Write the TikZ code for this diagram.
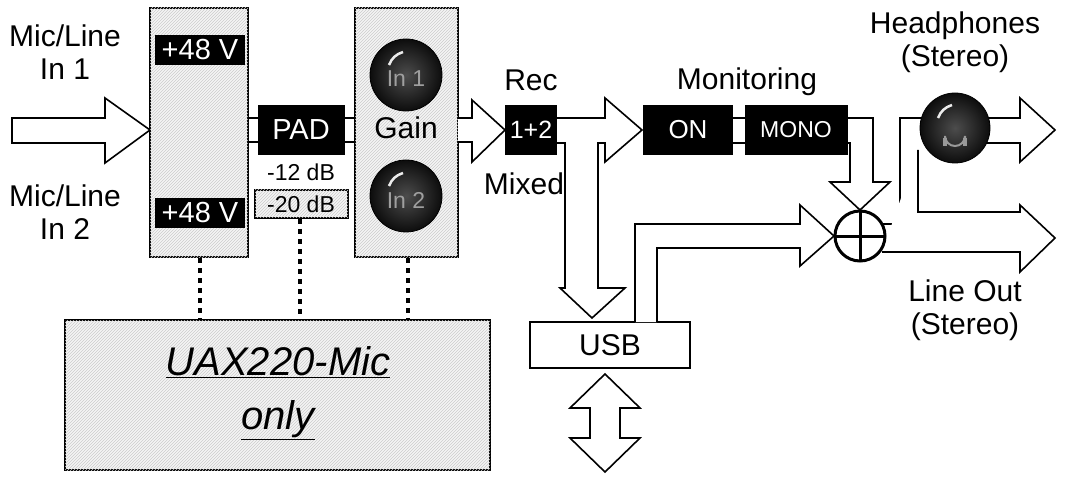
\documentclass[tikz,border=0pt]{standalone}
\usepackage{fontspec}
\setmainfont{Liberation Sans}
\usetikzlibrary{patterns}
\begin{document}
\begin{tikzpicture}[x=1pt,y=-1pt,line width=1.6pt,
  lbl/.style={font=\fontsize{30}{33}\selectfont,align=center},
  blk/.style={fill=black,text=white,font=\fontsize{29}{30}\selectfont,inner sep=0pt},
  hatch/.style={fill=gray!8,postaction={pattern=north east lines,pattern color=gray!40}},
  knobtxt/.style={text=gray!75,font=\fontsize{23}{24}\selectfont},
  knob/.style={inner color=black!70,outer color=black!95},
  dotl/.style={line width=4pt,dash pattern=on 5pt off 5pt}]
\useasboundingbox (0,0) rectangle (1068,481);
% input arrow
\draw[fill=white] (12,118)--(105,118)--(105,98)--(150,130)--(105,163)--(105,143)--(12,143)--cycle;
\node[lbl] (in1) at (65,52) {Mic/Line\\In 1};
\node[lbl] (in2) at (65,212) {Mic/Line\\In 2};
% phantom box
\draw[hatch] (150,8) rectangle (248,257);
\node[blk,minimum width=90,minimum height=30] (p1) at (200,50) {+48 V};
\node[blk,minimum width=90,minimum height=30] (p2) at (200,213) {+48 V};
% band to PAD
\draw (248,118)--(258,118) (248,142)--(258,142) (345,118)--(355,118) (345,142)--(355,142);
\node[blk,minimum width=87,minimum height=50] (pad) at (301,130) {PAD};
\node[font=\fontsize{23}{24}\selectfont] (d12) at (301,172) {-12 dB};
\draw[hatch,line width=1.2pt] (255,190) rectangle (348,218);
\node[font=\fontsize{23}{24}\selectfont] (d20) at (301,204) {-20 dB};
% gain box
\draw[hatch] (355,8) rectangle (458,257);
\foreach \n/\y in {1/75,2/196}{
  \shade[knob] (406,\y) circle (36);
  \draw[line width=0.8pt] (406,\y) circle (36);
  \draw[white!85!gray,line width=2.5pt] (389,\y-10) to[bend left=25] (403,\y-23);
  \node[knobtxt] (k\n) at (406,\y+4) {In \n};
}
\node[lbl] (gain) at (406,128) {Gain};
% arrow to Rec
\draw[fill=white] (458,118)--(472,118)--(472,100)--(505,130)--(472,162)--(472,142)--(458,142);
\node[blk,minimum width=52,minimum height=50,font=\fontsize{25}{26}\selectfont] (rec) at (531,130) {1+2};
\node[lbl] (reclbl) at (531,80) {Rec};
\node[lbl] (mix) at (524,184) {Mixed};
% rec outputs
\draw[fill=white] (557,118)--(605,118)--(605,98)--(642,130)--(605,162)--(605,143)--(598,143)--(598,288)--(625,288)--(592,318)--(560,288)--(565,288)--(565,143)--(557,143);
\node[blk,minimum width=90,minimum height=50,font=\fontsize{26}{27}\selectfont] (on) at (688,130) {ON};
\node[blk,minimum width=103,minimum height=50,font=\fontsize{23}{24}\selectfont] (mono) at (796,130) {MONO};
\draw (733,118)--(745,118) (733,143)--(745,143);
\node[lbl] (mon) at (747,82) {Monitoring};
% mono down to sum
\draw[fill=white] (848,118)--(873,118)--(873,182)--(890,182)--(860,210)--(830,182)--(850,182)--(850,143)--(848,143);
% USB
\node[draw,minimum width=160,minimum height=46,lbl,inner sep=0pt] (usb) at (610,345) {USB};
\draw[fill=white] (635,322)--(635,224)--(800,224)--(800,205)--(834,236)--(800,266)--(800,248)--(657,248)--(657,322);
\draw[fill=white] (605,374)--(640,408)--(620,408)--(620,438)--(640,438)--(605,472)--(570,438)--(590,438)--(590,408)--(570,408)--cycle;
% outputs
\draw (880,224)--(900,224)--(900,118)--(925,118);
\draw (984,118)--(1020,118)--(1020,98)--(1055,130)--(1020,162)--(1020,143)--(984,143);
\draw[fill=white] (918,150)--(918,212)--(1020,212)--(1020,205)--(1055,238)--(1020,272)--(1020,252)--(882,252);
% sum
\draw[line width=3pt,fill=white] (860,236) circle (25);
\draw[line width=3pt] (835,236)--(885,236) (860,211)--(860,261);
% headphone knob
\shade[knob] (955,128) circle (35);
\draw[line width=0.8pt] (955,128) circle (35);
\draw[white!85!gray,line width=2.5pt] (938,118) to[bend left=25] (952,105);
\draw[gray!80,line width=2pt] (945,145)--(945,136) arc (180:0:10) --(965,145);
\draw[gray!80,line width=4pt] (945,138)--(945,146) (965,138)--(965,146);
\node[lbl] (hp) at (955,42) {Headphones\\(Stereo)};
\node[lbl] (lo) at (965,310) {Line Out\\(Stereo)};
% UAX box
\draw[hatch] (65,320) rectangle (490,470);
\node[lbl,font=\fontsize{40}{54}\selectfont\itshape] (uax) at (278,393) {\underline{UAX220-Mic}\\\underline{only}};
\draw[dotl] (200,258)--(200,320) (300,219)--(300,320) (408,258)--(408,320);
\end{tikzpicture}
\end{document}
